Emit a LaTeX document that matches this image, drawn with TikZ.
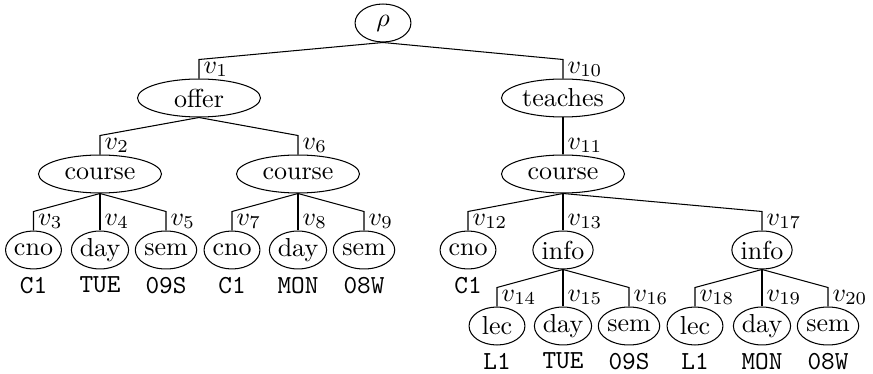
\documentclass[tikz,border=0pt]{standalone}
\usetikzlibrary{shapes.geometric,calc}
\begin{document}
\begin{tikzpicture}[x=0.3846pt,y=-0.3846pt,
  tnode/.style={draw, ellipse, inner sep=0pt, minimum height=14.6pt},
  small/.style={tnode, minimum width=21.5pt},
  wide/.style={tnode, minimum width=47.3pt},
  vlab/.style={anchor=south west, inner xsep=1.6pt, inner ysep=0.4pt},
  val/.style={font=\ttfamily, anchor=north, inner sep=0pt}]
\useasboundingbox (0,0) rectangle (873,374);

% tree nodes
\node[small] (rho) at (383,23) {$\rho$};
\node[wide] (n1) at (199,98) {offer};
\node[wide] (n10) at (563,98) {teaches};
\node[wide] (n2) at (100,174) {course};
\node[wide] (n6) at (298,174) {course};
\node[wide] (n11) at (563,174) {course};
\node[small] (n3) at (33.5,250) {cno};
\node[small] (n4) at (100,250) {day};
\node[small] (n5) at (166,250) {sem};
\node[small] (n7) at (232,250) {cno};
\node[small] (n8) at (298,250) {day};
\node[small] (n9) at (364,250) {sem};
\node[small] (n12) at (468,250) {cno};
\node[small] (n13) at (563,250) {info};
\node[small] (n17) at (762,250) {info};
\node[small] (n14) at (497,326) {lec};
\node[small] (n15) at (563,326) {day};
\node[small] (n16) at (629,326) {sem};
\node[small] (n18) at (695,326) {lec};
\node[small] (n19) at (762,326) {day};
\node[small] (n20) at (828,326) {sem};

% leaf values
\foreach \n/\t in {n3/C1, n4/TUE, n5/09S, n7/C1, n8/MON, n9/08W, n12/C1,
                   n14/L1, n15/TUE, n16/09S, n18/L1, n19/MON, n20/08W}
  \node[val] (val\n) at ($(\n.south)+(0,7)$) {\t};

% edges: slanted from the parent, then straight down into the child
\foreach \p/\c/\l in {rho/n1/1, rho/n10/10, n1/n2/2, n1/n6/6, n10/n11/11,
                      n2/n3/3, n2/n4/4, n2/n5/5, n6/n7/7, n6/n8/8, n6/n9/9,
                      n11/n12/12, n11/n13/13, n11/n17/17,
                      n13/n14/14, n13/n15/15, n13/n16/16,
                      n17/n18/18, n17/n19/19, n17/n20/20}
  \draw (\p.south) -- ($(\c.north)+(0,-19)$) -- (\c.north) node[vlab] {$v_{\l}$};
\end{tikzpicture}
\end{document}
